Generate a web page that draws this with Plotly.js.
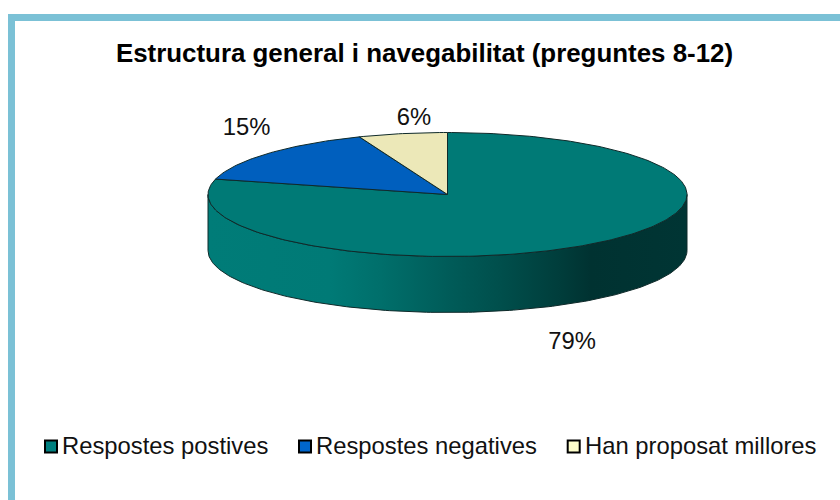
<!DOCTYPE html>
<html>
<head>
<meta charset="utf-8">
<script src="https://cdn.plot.ly/plotly-3.0.1.min.js"></script>
<style>html,body{margin:0;padding:0;background:#fff}#chart{width:840px;height:500px}</style>
</head>
<body>
<div id="chart"></div>
<script>
const chartTitle = 'Estructura general i navegabilitat (preguntes 8-12)';
const categories = ['Respostes postives', 'Respostes negatives', 'Han proposat millores'];
const values = [79, 15, 6];

const topColors = ['#007a76', '#005fbe', '#ece8b8'];
const keyColors = ['#008080', '#0066cc', '#ffffcc'];
const wallStops = [[0, '#007c78'], [0.255, '#007a76'], [0.36, '#006f6b'], [0.5, '#005c59'], [0.61, '#004f4c'], [0.735, '#003d3b'], [0.8, '#003231'], [1, '#003534']];
const edge = '#0f2a2a';

const cx = 447.5, cy = 194.5, rx = 239.5, ry = 62, depth = 56;
const ex = d => cx + rx * Math.sin(d * Math.PI / 180);
const ey = d => cy - ry * Math.cos(d * Math.PI / 180);

function arc(from, to, dy) {
  const pts = [], n = Math.max(2, Math.ceil(Math.abs(to - from)));
  for (let i = 0; i <= n; i++) {
    const d = from + (to - from) * i / n;
    pts.push([ex(d), ey(d) + dy]);
  }
  return pts;
}

const traces = [];

const wall = arc(90, 270, 0).concat(arc(270, 90, depth));
traces.push({
  type: 'scatter', mode: 'lines', fill: 'toself',
  x: wall.map(p => p[0]).concat(wall[0][0]),
  y: wall.map(p => p[1]).concat(wall[0][1]),
  line: {color: edge, width: 1},
  fillcolor: '#007872',
  fillgradient: {type: 'horizontal', colorscale: wallStops, start: cx - rx, stop: cx + rx},
  hoverinfo: 'skip', showlegend: false
});

const total = values.reduce((a, b) => a + b, 0);
let start = 0;
values.forEach((v, i) => {
  const end = start + v / total * 360;
  const pts = [[cx, cy]].concat(arc(start, end, 0), [[cx, cy]]);
  traces.push({
    type: 'scatter', mode: 'lines', fill: 'toself',
    x: pts.map(p => p[0]), y: pts.map(p => p[1]),
    line: {color: edge, width: 1},
    fillcolor: topColors[i],
    name: categories[i], hoverinfo: 'name', showlegend: false
  });
  start = end;
});

const keyX = [51, 305, 573.7];
const keyTextX = [62, 316, 585];
const labelPos = [[572, 343], [246.5, 129], [414, 119]];

traces.push({
  type: 'scatter', mode: 'markers',
  x: keyX, y: keyX.map(() => 446.5),
  marker: {symbol: 'square', size: 12, color: keyColors, line: {color: '#000', width: 2}},
  hoverinfo: 'skip', showlegend: false, cliponaxis: false
});

traces.push({
  type: 'scatter', mode: 'text',
  x: keyTextX, y: keyTextX.map(() => 448),
  text: categories,
  textposition: 'middle right',
  textfont: {family: 'Liberation Sans, Arial, sans-serif', size: 23.8, color: '#111'},
  hoverinfo: 'skip', showlegend: false, cliponaxis: false
});

traces.push({
  type: 'scatter', mode: 'text',
  x: labelPos.map(p => p[0]), y: labelPos.map(p => p[1]),
  text: values.map(v => v + '%'),
  textposition: 'middle center',
  textfont: {family: 'Liberation Sans, Arial, sans-serif', size: 23.8, color: '#111'},
  hoverinfo: 'skip', showlegend: false, cliponaxis: false
});

const layout = {
  width: 840, height: 500,
  margin: {l: 0, r: 0, t: 0, b: 0},
  paper_bgcolor: '#fff', plot_bgcolor: '#fff',
  showlegend: false,
  title: {
    text: '<b>' + chartTitle + '</b>',
    font: {family: 'Liberation Sans, Arial, sans-serif', size: 25.9, color: '#000'},
    x: 424.5 / 840, xanchor: 'center', y: 1 - 53 / 500, yanchor: 'middle'
  },
  xaxis: {range: [0, 840], visible: false, fixedrange: true},
  yaxis: {range: [500, 0], visible: false, fixedrange: true},
  shapes: [
    {type: 'rect', layer: 'below', xref: 'x', yref: 'y', x0: 8, x1: 15, y0: 14, y1: 500, fillcolor: '#7bc1d6', line: {width: 0}},
    {type: 'rect', layer: 'below', xref: 'x', yref: 'y', x0: 8, x1: 840, y0: 14, y1: 21, fillcolor: '#7bc1d6', line: {width: 0}}
  ]
};

Plotly.newPlot('chart', traces, layout, {displayModeBar: false, responsive: false});
</script>
</body>
</html>
